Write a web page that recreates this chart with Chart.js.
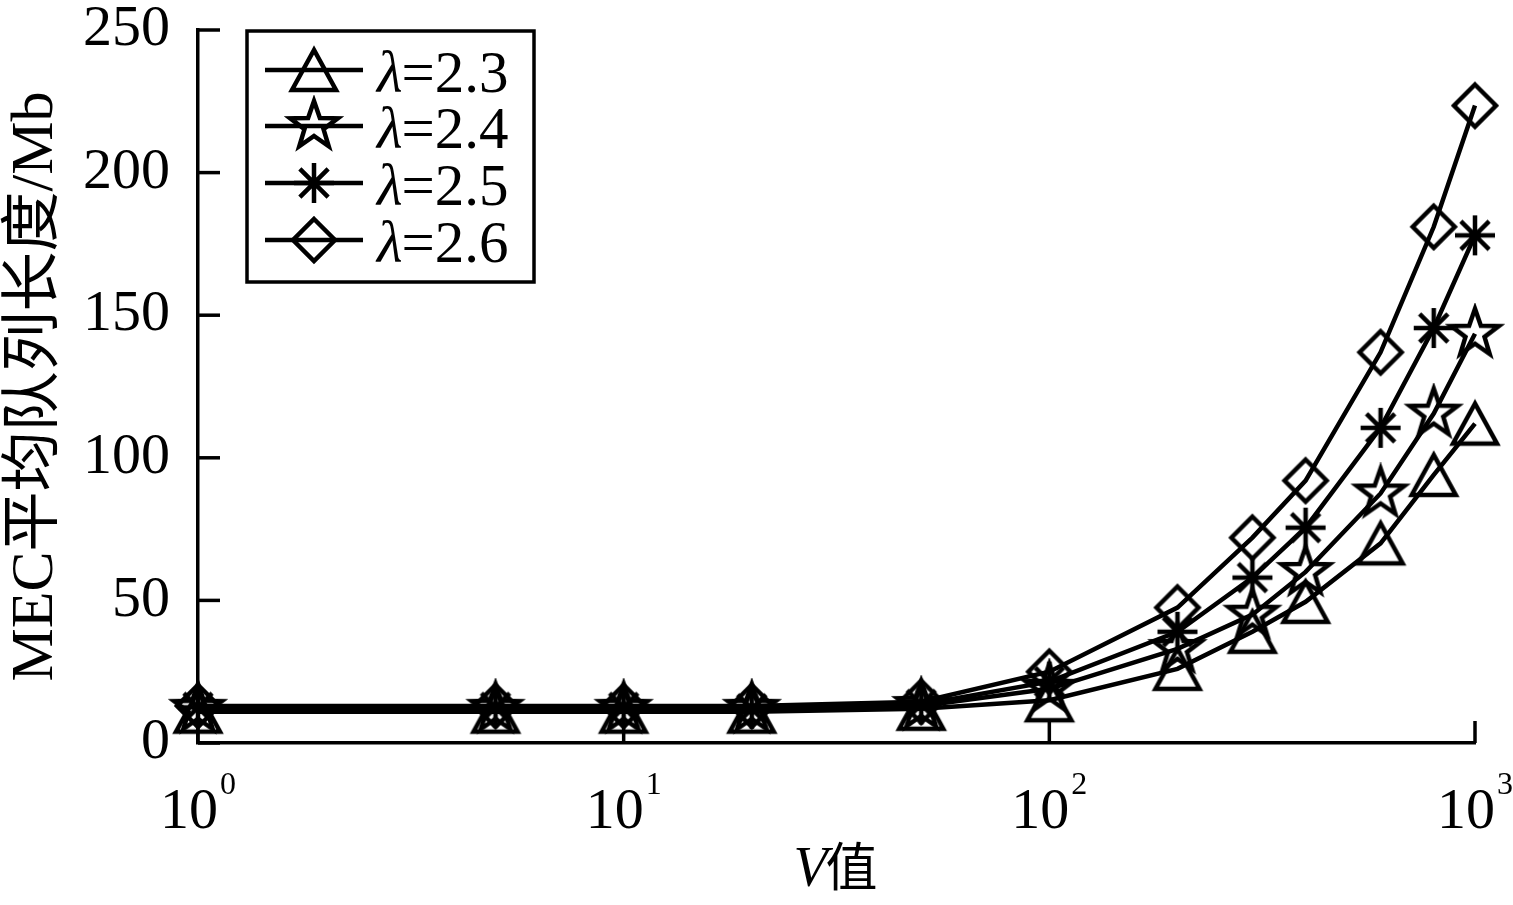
<!DOCTYPE html>
<html>
<head>
<meta charset="utf-8">
<script src="https://cdn.jsdelivr.net/npm/chart.js@4.4.1/dist/chart.umd.min.js"></script>
<style>
  html, body { margin: 0; padding: 0; background: #fff; }
  #wrap { width: 1513px; height: 905px; }
</style>
</head>
<body>
<div id="wrap"><canvas id="c" width="1513" height="905"></canvas></div>
<script>
// ---- data ----
const vValues = [1, 5, 10, 20, 50, 100, 200, 300, 400, 600, 800, 1000];
const lambda23 = [11, 11, 11, 11, 12, 15, 26, 39, 49.5, 70, 94, 112];
const lambda24 = [12, 12, 12, 12, 13, 19, 33, 45, 60, 87.5, 115.5, 143.5];
const lambda25 = [12.5, 12.5, 12.5, 12, 13.5, 21.5, 39, 58, 75.5, 110.5, 145.5, 178];
const lambda26 = [13, 13, 13, 13, 14.5, 25, 47.5, 72, 92, 137, 181, 223.5];
const seriesLabels = ['=2.3', '=2.4', '=2.5', '=2.6'];
const xTickValues = [1, 10, 100, 1000];
const xTickExponents = ['0', '1', '2', '3'];
const yTickValues = [0, 50, 100, 150, 200, 250];
const yTitle = 'MEC平均队列长度/Mb';
const xTitleItalic = 'V';
const xTitleRest = '值';

const SERIF = "'Liberation Serif', 'Times New Roman', serif";
const LW = 4.5;

// ---- marker images ----
function mk(size, draw) {
  const c = document.createElement('canvas');
  c.width = size; c.height = size;
  const g = c.getContext('2d');
  g.strokeStyle = '#000';
  g.lineWidth = LW;
  g.lineJoin = 'miter';
  draw(g, size / 2);
  return c;
}
const triMarker = mk(58, (g, c) => {
  g.beginPath();
  g.moveTo(c, c - 20);
  g.lineTo(c - 22, c + 20);
  g.lineTo(c + 22, c + 20);
  g.closePath();
  g.stroke();
});
const starMarker = mk(62, (g, c) => {
  const R = 25, r = R * 0.40;
  g.beginPath();
  for (let i = 0; i < 10; i++) {
    const rad = i % 2 === 0 ? R : r;
    const a = -Math.PI / 2 + i * Math.PI / 5;
    const px = c + rad * Math.cos(a), py = c + rad * Math.sin(a);
    if (i === 0) g.moveTo(px, py); else g.lineTo(px, py);
  }
  g.closePath();
  g.stroke();
});
const astMarker = mk(50, (g, c) => {
  const R = 20;
  g.lineCap = 'butt';
  g.beginPath();
  for (let i = 0; i < 4; i++) {
    const a = i * Math.PI / 4;
    g.moveTo(c - R * Math.cos(a), c - R * Math.sin(a));
    g.lineTo(c + R * Math.cos(a), c + R * Math.sin(a));
  }
  g.stroke();
});
const diaMarker = mk(54, (g, c) => {
  const R = 21;
  g.beginPath();
  g.moveTo(c, c - R);
  g.lineTo(c + R, c);
  g.lineTo(c, c + R);
  g.lineTo(c - R, c);
  g.closePath();
  g.stroke();
});
const markers = [triMarker, starMarker, astMarker, diaMarker];
const seriesValues = [lambda23, lambda24, lambda25, lambda26];

const datasets = seriesValues.map((vals, i) => ({
  label: 'λ' + seriesLabels[i],
  data: vValues.map((v, k) => ({ x: v, y: vals[k] })),
  borderColor: '#000',
  backgroundColor: 'rgba(0,0,0,0)',
  borderWidth: LW,
  pointStyle: markers[i],
  pointRadius: 20,
  pointHoverRadius: 20,
  tension: 0,
  clip: false
}));

// ---- custom drawing plugin: inward ticks, x tick labels, x title, legend ----
const decorPlugin = {
  id: 'decor',
  afterDraw(chart) {
    const ctx = chart.ctx;
    const xs = chart.scales.x, ys = chart.scales.y;
    const ca = chart.chartArea;
    ctx.save();
    ctx.strokeStyle = '#000';
    ctx.fillStyle = '#000';
    ctx.lineWidth = 3.5;
    ctx.lineCap = 'butt';
    // inward y ticks
    yTickValues.forEach(v => {
      const py = ys.getPixelForValue(v);
      ctx.beginPath(); ctx.moveTo(ca.left, py); ctx.lineTo(ca.left + 22, py); ctx.stroke();
    });
    // inward x ticks
    xTickValues.forEach(v => {
      const px = xs.getPixelForValue(v);
      ctx.beginPath(); ctx.moveTo(px, ca.bottom); ctx.lineTo(px, ca.bottom - 22); ctx.stroke();
    });
    // x tick labels 10^n
    xTickValues.forEach((v, i) => {
      const px = xs.getPixelForValue(v);
      ctx.font = '58px ' + SERIF;
      const w1 = ctx.measureText('10').width;
      ctx.font = '32px ' + SERIF;
      const w2 = ctx.measureText(xTickExponents[i]).width;
      const total = w1 + 2 + w2;
      const x0 = px - total / 2;
      ctx.textBaseline = 'alphabetic';
      ctx.textAlign = 'left';
      ctx.font = '58px ' + SERIF;
      ctx.fillText('10', x0, 828);
      ctx.font = '32px ' + SERIF;
      ctx.fillText(xTickExponents[i], x0 + w1 + 2, 794);
    });
    // x title
    ctx.font = 'italic 56px ' + SERIF;
    const wv = ctx.measureText(xTitleItalic).width;
    ctx.font = "52px 'Noto Sans CJK SC', " + SERIF;
    const wz = ctx.measureText(xTitleRest).width;
    const cx = (ca.left + ca.right) / 2;
    const tx = cx - (wv + wz) / 2;
    ctx.font = 'italic 56px ' + SERIF;
    ctx.fillText(xTitleItalic, tx, 886);
    ctx.font = "52px 'Noto Sans CJK SC', " + SERIF;
    ctx.fillText(xTitleRest, tx + wv - 2, 886);

    // legend
    const lx0 = 247, ly0 = 31, lx1 = 534, ly1 = 282;
    ctx.lineWidth = 3.5;
    ctx.strokeRect(lx0, ly0, lx1 - lx0, ly1 - ly0);
    const rowY = [70, 126, 183, 240];
    seriesLabels.forEach((lab, i) => {
      const y = rowY[i];
      ctx.lineWidth = LW;
      ctx.beginPath(); ctx.moveTo(265, y); ctx.lineTo(363, y); ctx.stroke();
      const m = markers[i];
      ctx.drawImage(m, 314 - m.width / 2, y - m.height / 2);
      ctx.font = 'italic 59px ' + SERIF;
      ctx.fillText('λ', 377, y + 22);
      const wl = ctx.measureText('λ').width;
      ctx.font = '59px ' + SERIF;
      ctx.fillText(lab, 377 + wl - 1, y + 22);
    });
    ctx.restore();
  }
};

new Chart(document.getElementById('c'), {
  type: 'line',
  data: { datasets },
  plugins: [decorPlugin],
  options: {
    responsive: false,
    animation: false,
    devicePixelRatio: 1,
    layout: { padding: { top: 30, right: 38, left: 0, bottom: 0 } },
    plugins: { legend: { display: false }, tooltip: { enabled: false } },
    scales: {
      x: {
        type: 'logarithmic',
        min: 1, max: 1000,
        afterBuildTicks: (s) => { s.ticks = xTickValues.map(v => ({ value: v })); },
        afterFit: (s) => { s.height = 162; },
        ticks: { display: false },
        grid: { display: false, drawTicks: false },
        border: { display: true, color: '#000', width: 3.5 }
      },
      y: {
        type: 'linear',
        min: 0, max: 250,
        afterBuildTicks: (s) => { s.ticks = yTickValues.map(v => ({ value: v })); },
        afterFit: (s) => { s.width = 198; s.paddingTop = 0; s.paddingBottom = 0; },
        ticks: {
          color: '#000',
          padding: 28,
          font: { family: SERIF, size: 58, lineHeight: 0.1 }
        },
        grid: { display: false, drawTicks: false },
        border: { display: true, color: '#000', width: 3.5 },
        title: {
          display: true,
          text: yTitle,
          color: '#000',
          font: { family: SERIF + ", 'Noto Sans CJK SC'", size: 60, lineHeight: 1.2 },
          padding: { top: 0, bottom: 0 }
        }
      }
    }
  }
});
</script>
</body>
</html>
